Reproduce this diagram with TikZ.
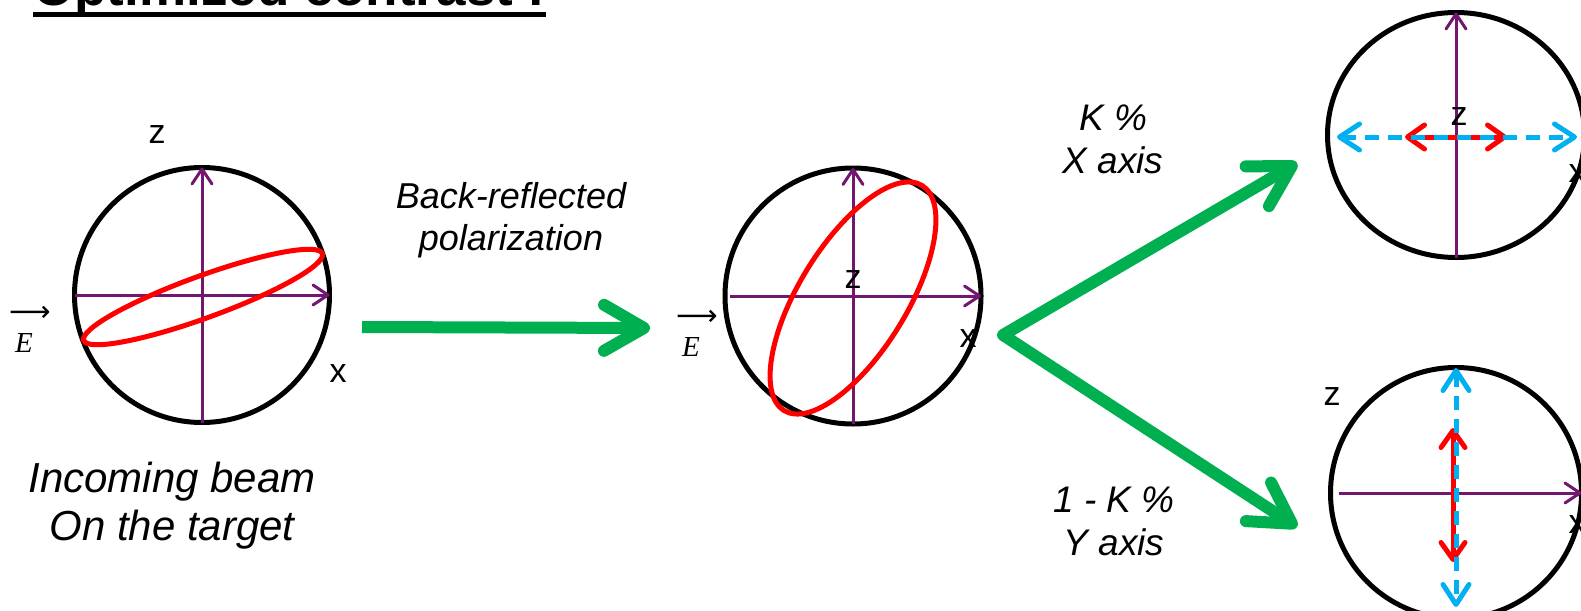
\documentclass[tikz,border=0pt]{standalone}
\usepackage{fontspec}
\setmainfont{Liberation Sans}
\newfontfamily\arrowfont{DejaVu Sans}
\newfontfamily\serifit{Liberation Serif}
\usetikzlibrary{arrows.meta,calc,shapes.geometric}
\definecolor{axpurple}{RGB}{115,22,112}
\definecolor{grn}{RGB}{0,176,80}
\definecolor{blu}{RGB}{0,176,240}
\begin{document}
\begin{tikzpicture}[x=1pt,y=-1pt,
  ring/.style={circle,draw=black,line width=5pt,minimum size=#1,inner sep=0pt,outer sep=0pt},
  oval/.style={ellipse,draw=black,line width=5pt,inner sep=0pt,outer sep=0pt},
  ptip/.tip={Straight Barb[length=15pt,width=20pt,round]},
  gtip/.tip={Straight Barb[length=40pt,width=46pt,round]},
  btip/.tip={Straight Barb[length=20pt,width=26pt,round]},
  rtip/.tip={Straight Barb[length=17pt,width=24pt,round]},
  axis/.style={draw=axpurple,line width=3pt,-ptip},
  pol/.style={draw=red,line width=5pt},
  garrow/.style={draw=grn,line width=12pt,-gtip},
  gfork/.style={draw=grn,line width=12pt,gtip-gtip,line join=round},
  bdash/.style={draw=blu,line width=5pt,dash pattern=on 14pt off 9pt,btip-btip},
  rarrow/.style={draw=red,line width=5pt,rtip-rtip},
  lbl/.style={inner sep=0pt,anchor=base,font=\fontsize{34}{40}\selectfont},
  captxt/.style={inner sep=0pt,anchor=base,align=center},
  evec/.style={inner sep=0pt,anchor=base west,align=left,font=\fontsize{29}{31}\selectfont},
  ttl/.style={inner sep=0pt,anchor=base west,font=\bfseries\fontsize{53}{58}\selectfont}
]
\useasboundingbox (0,0) rectangle (1581,610);

% title (cut off at the top)
\node[ttl] (title) at (33,6) {Optimized contrast !};
\draw[line width=5.5pt] ($(title.base west)+(0,8.5)$) -- ($(title.base east)+(0,8.5)$);

% circles
\node[ring=255pt] (c1) at (202,295) {};
\node[ring=256pt] (c2) at (853,296) {};
\node[oval,minimum width=257pt,minimum height=245pt] (c3) at (1456,135) {};
\node[ring=251pt] (c4) at (1456,493) {};

% purple axes
\draw[axis] (c1.west) -- (c1.east);
\draw[axis] (c1.south) -- (c1.north);
\draw[axis] ($(c2.west)+(5,0)$) -- (c2.east);
\draw[axis] (c2.south) -- (c2.north);
\draw[axis] (c3.south) -- (c3.north);
\draw[axis] ($(c4.west)+(8,0)$) -- (c4.east);

% polarization ellipses
\coordinate (p1) at (203,297);
\draw[pol,rotate around={20:(p1)}] (p1) ellipse [x radius=127, y radius=21];
\coordinate (p2) at (853,298);
\draw[pol,rotate around={58.5:(p2)}] (p2) ellipse [x radius=132, y radius=54];

% projections
\coordinate (r3l) at (1405,137); \coordinate (r3r) at (1507,137);
\coordinate (b3l) at (1337,137); \coordinate (b3r) at (1577,137);
\draw[rarrow] (r3l) -- (r3r);
\draw[bdash] (b3l) -- (b3r);
\coordinate (r4t) at (1453,428); \coordinate (r4b) at (1453,562);
\coordinate (b4t) at (1456,368); \coordinate (b4b) at (1456,607);
\draw[rarrow] (r4t) -- (r4b);
\draw[bdash] (b4t) -- (b4b);

% axis labels
\node[lbl] (z1) at (157,143) {z};
\node[lbl] (x1) at (338,382) {x};
\node[lbl] (z2) at (853,288) {z};
\node[lbl] (x2) at (968,347) {x};
\node[lbl] (z3) at (1459,125) {z};
\node[lbl] (x3) at (1577,182) {x};
\node[lbl] (z4) at (1332,405) {z};
\node[lbl] (x4) at (1577,533) {x};

% E vectors
\node[evec] (e1) at (9,352) {{\arrowfont ⟶}\\\hspace*{6pt}{\serifit\itshape E}};
\node[evec] (e2) at (676,356) {{\arrowfont ⟶}\\\hspace*{6pt}{\serifit\itshape E}};

% green arrows
\coordinate (g0) at (362,327);
\coordinate (g1) at (650,328);
\draw[garrow] (g0) -- (g1);
\coordinate (fork) at (1003,335);
\coordinate (up) at (1297,163);
\coordinate (down) at (1297,527);
\draw[gfork] (up) -- (fork) -- (down);

% captions
\node[captxt,font=\itshape\fontsize{42}{48}\selectfont] (t1) at (172,540) {Incoming beam\\On the target};
\node[captxt,font=\itshape\fontsize{36}{42}\selectfont] (t2) at (511,250) {Back-reflected\\polarization};
\node[captxt,font=\itshape\fontsize{37}{43}\selectfont] (t3) at (1113,173) {K \%\\X axis};
\node[captxt,font=\itshape\fontsize{37}{43}\selectfont] (t4) at (1114,555) {1 - K \%\\Y axis};
\end{tikzpicture}
\end{document}
